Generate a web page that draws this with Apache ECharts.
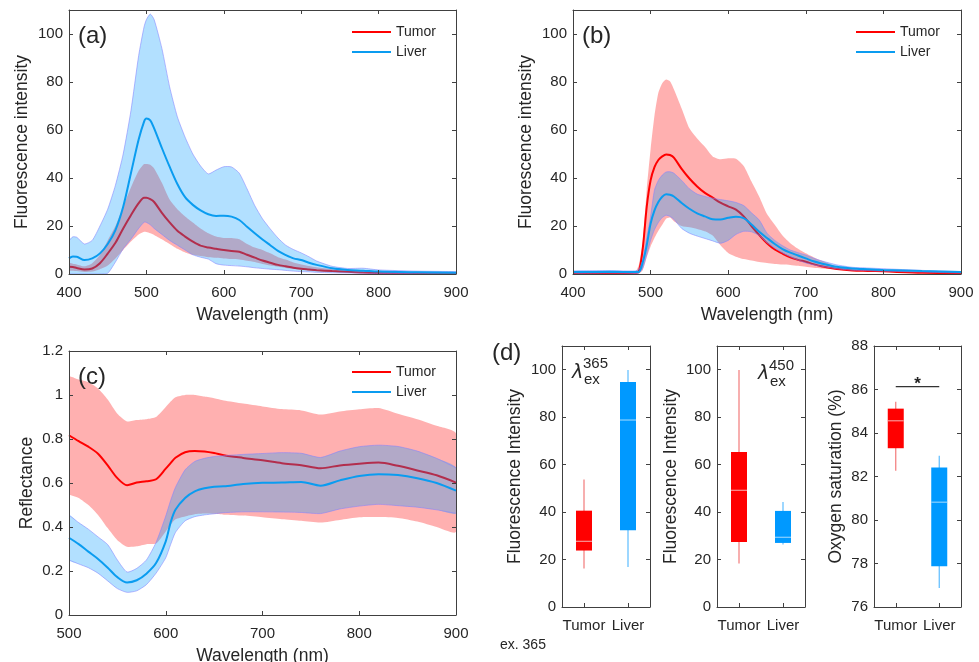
<!DOCTYPE html>
<html><head><meta charset="utf-8">
<script src="https://cdn.jsdelivr.net/npm/echarts/dist/echarts.min.js"></script>
<style>html,body{margin:0;padding:0;background:#fff}#c{width:979px;height:662px}</style>
</head><body><div id="c"></div>
<script>
// ---------- Panel (a): excitation 365 nm fluorescence ----------
const wlA = [400,405,410,420,430,440,450,460,470,480,490,497,500,505,510,520,530,540,550,560,570,580,590,600,610,620,630,640,650,660,670,680,690,700,710,720,740,760,780,800,850,900];
const liverMeanA = [6.5,7.3,7.2,5.8,6.5,8.6,12.5,18.3,28,42, 56,63.5,64.8,64,60.7,52.5,44.7,37.5,32,28.8, 26.5,24.9,24.2,24.3,23.9,22.5,19.7,17,14.4,12, 9.6,7.9,6.5,5.8,4.7,3.8,2.4,1.7,1.4,1.0, 0.7,0.5];
const liverHighA = [13.9,15.5,15.3,12.5,14,20,27,37,50,68, 91,103,106,108.3,106,94,78,65.5,57,50, 45,41.7,43.3,44.7,44.6,42,35.5,28.5,23,18.8, 15,12,10.2,8.8,7.2,5.4,3.2,2.3,2.4,1.7, 1.2,1.0];
const liverLowA = [0,0,0,0,0,0,0.3,5,10.5,14.5, 19,21.6,21.5,20.5,19,16.5,14,12,10,8, 7,6.2,4.3,3.7,3.5,3.3,3,2.6,2.3,2, 1.8,1.5,1.2,1,0.9,0.7,0.5,0.4,0.3,0.2, 0.1,0];
const tumorMeanA = [3,2.9,2.5,1.9,2.3,4.5,8.5,13,19,24.5, 29.5,31.8,31.8,31.2,30,25.5,21.5,18,15.6,13.5, 11.8,11,10.5,10,9.6,9.3,8,6.8,5.6,4.7, 3.8,3.2,2.6,2.2,1.9,1.6,1.2,0.9,0.6,0.4, 0.3,0.2];
const tumorHighA = [4.5,4.3,4,3.2,4.5,8,14,20,28,36, 43,45.8,45.8,45.5,44,38,31,27,24,21.5, 19,17,15.6,15,15,14.5,12.5,11,10,8.6, 7,6,4.8,4,3.3,2.8,2,1.5,1.1,0.8, 0.6,0.4];
const tumorLowA = [1.5,1.4,1.2,0.8,1,2,3.5,6.5,10,13.5, 16.5,17.6,17.5,17,16.3,14.5,12.5,10.5,9,8, 7.5,7,6.8,6.5,6.2,6,5.5,5,4.2,3.5, 3,2.5,2.1,1.8,1.5,1.2,0.8,0.5,0.3,0.2, 0.1,0];

// ---------- Panel (b): excitation 450 nm fluorescence ----------
const wlB = [400,450,480,485,490,495,500,505,510,515,520,525,530,540,550,560,570,580,590,600,610,620,630,640,650,660,670,680,690,700,710,720,740,760,780,800,850,900];
const tumorMeanB = [0.3,0.4,0.5,1.2,11,28,39,44.5,47.5,49, 49.8,49.6,48.5,43.8,39.8,36.5,33.8,31.8,29.7,28.2, 26.8,24,20,16.2,12.8,10.2,8.5,6.9,5.9,5.1, 4.1,3.2,2.1,1.5,1.3,1.1,0.5,0.4];
const tumorHighB = [0.8,0.9,1,4,14,35,52,66,75.5,79.5, 81,80.3,77,69,60.7,56.5,53,49,47.8,48.2, 48,45,38.5,32.2,25,20.5,16,12.8,10.5,8.6, 7,5.6,3.1,1.9,1.5,1.2,0.8,0.5];
const tumorLowB = [0,0,0,0.2,1.7,7,11.5,15,18,20.5, 23,23.5,22,20,19.5,18.8,17.8,16,12,8.8, 7.2,6.2,5.6,5,4.6,4.2,4,3.8,3.4,3, 2.6,2.3,1.8,1.5,1.2,1,0.6,0.3];
const liverMeanB = [0.8,0.9,0.8,0.9,5,12,21,26.5,30,32.2, 33.2,33,32.3,29.6,27.2,25.3,24,22.8,22.7,23.4, 23.9,23.3,20.6,17.6,15,12.5,10.4,8.9,7.7,6.5, 5.3,4.4,3,2.3,2.0,1.7,1.2,0.8];
const liverHighB = [1.3,1.4,1.3,2,6,15,24,35,39,41.2, 42.5,42.6,42,39,35.5,33.3,32.3,31.6,31,30.5, 29.8,28.5,25.5,22.5,17,14,11.8,10,8.9,7.9, 6.6,5.5,3.8,2.8,2.5,2.2,1.5,1.0];
const liverLowB = [0.3,0.4,0.3,0.4,2.5,8,14,18.5,21.5,23.5, 24.5,24,22.8,19,17,15.8,14.8,13.8,12.8,14, 16.5,17.8,17.6,16,13,10.8,8.8,7.2,5.8,4.6, 3.8,3.2,2.2,1.6,1.4,1.2,0.8,0.4];

// ---------- Panel (c): reflectance ----------
const wlC = [500,510,520,530,540,550,560,570,580,590,600,605,610,620,630,640,650,660,680,700,720,740,760,780,800,820,840,860,880,900];
const tumorMeanC = [0.817,0.79,0.765,0.733,0.68,0.622,0.59,0.602,0.608,0.617, 0.665,0.69,0.715,0.74,0.746,0.743,0.736,0.726,0.714,0.703, 0.69,0.681,0.667,0.68,0.688,0.693,0.678,0.657,0.635,0.602];
const tumorHighC = [1.082,1.07,1.058,1.03,0.98,0.915,0.88,0.886,0.89,0.9, 0.945,0.97,0.99,1.0,1.0,0.993,0.985,0.975,0.961,0.948, 0.936,0.93,0.911,0.925,0.935,0.941,0.915,0.89,0.86,0.825];
const tumorLowC = [0.552,0.532,0.5,0.455,0.395,0.34,0.31,0.312,0.322,0.325, 0.38,0.41,0.435,0.448,0.458,0.461,0.46,0.456,0.452,0.444, 0.435,0.428,0.42,0.432,0.444,0.445,0.441,0.425,0.4,0.378];
const liverMeanC = [0.351,0.322,0.288,0.255,0.215,0.172,0.148,0.158,0.188,0.236, 0.335,0.42,0.478,0.532,0.562,0.576,0.583,0.585,0.595,0.601, 0.602,0.605,0.588,0.612,0.632,0.64,0.636,0.622,0.6,0.565];
const liverHighC = [0.454,0.42,0.39,0.355,0.32,0.25,0.195,0.212,0.25,0.33, 0.45,0.52,0.58,0.66,0.698,0.712,0.72,0.724,0.73,0.734, 0.738,0.735,0.716,0.745,0.765,0.772,0.766,0.745,0.712,0.669];
const liverLowC = [0.25,0.232,0.215,0.19,0.155,0.12,0.103,0.11,0.138,0.19, 0.26,0.32,0.375,0.428,0.447,0.455,0.46,0.465,0.469,0.469, 0.468,0.466,0.461,0.482,0.495,0.503,0.497,0.49,0.478,0.462];

// ---------- Panel (d): box plots [min, q1, median, q3, max] ----------
const boxCategories = ['Tumor', 'Liver'];
const ex365Tumor = [16.2, 23.8, 27.7, 40.6, 53.7];
const ex365Liver = [16.9, 32.3, 78.8, 94.8, 99.9];
const ex450Tumor = [18.3, 27.4, 49.2, 65.3, 99.9];
const ex450Liver = [26.3, 27.0, 29.4, 40.5, 44.3];
const so2Tumor = [82.26, 83.30, 84.56, 85.12, 85.44];
const so2Liver = [76.87, 77.87, 80.82, 82.41, 82.95];
const significanceLevel = 86.13;

// ---------- Style ----------
const FONT = '"Liberation Sans", Arial, Helvetica, sans-serif';
const TXT = '#262626', AX = '#404040';
const RED = '#ff0000', BLUE = '#0a9cf0';
const RED_BAND = 'rgba(255,0,0,0.31)', BLUE_BAND = 'rgba(0,153,255,0.30)';
const BLUE_EDGE = 'rgba(130,130,255,0.55)';

const gridPos = [
  {left:69, top:10, width:387, height:264},
  {left:573, top:10, width:388, height:264},
  {left:69, top:351, width:387, height:264},
  {left:562, top:346, width:88, height:261},
  {left:717, top:346, width:88, height:261},
  {left:874, top:346, width:87, height:261}
];

function axisCommon(gi, pos, labels) {
  return {
    gridIndex: gi, position: pos, z: 10,
    axisLine: {show: true, onZero: false, lineStyle: {color: AX, width: 1}},
    axisTick: {show: true, inside: true, length: 4, lineStyle: {color: AX, width: 1}},
    splitLine: {show: false},
    axisLabel: {show: labels, color: TXT, fontSize: 15, fontFamily: FONT, margin: 7},
    nameTextStyle: {color: TXT, fontSize: 17.5, fontFamily: FONT},
    nameLocation: 'middle'
  };
}
function valX(gi, pos, min, max, name) {
  const a = axisCommon(gi, pos, pos === 'bottom');
  Object.assign(a, {type: 'value', min, max, interval: 100});
  if (name) { a.name = name; a.nameGap = 32; }
  a.axisLabel.margin = 11;
  return a;
}
function valY(gi, pos, min, max, interval, name, gap, hideMax) {
  const a = axisCommon(gi, pos, pos === 'left');
  Object.assign(a, {type: 'value', min, max, interval});
  if (hideMax) a.axisLabel.showMaxLabel = false;
  if (name) { a.name = name; a.nameGap = gap; }
  a.axisLabel.margin = 6;
  return a;
}
function catX(gi, pos) {
  const a = axisCommon(gi, pos, pos === 'bottom');
  Object.assign(a, {type: 'category', data: boxCategories, boundaryGap: true});
  a.axisTick.alignWithLabel = true;
  a.axisLabel.interval = 0;
  a.axisLabel.margin = 11;
  return a;
}

const xAxes = [
  valX(0, 'bottom', 400, 900, 'Wavelength (nm)'),
  valX(1, 'bottom', 400, 900, 'Wavelength (nm)'),
  valX(2, 'bottom', 500, 900, 'Wavelength (nm)'),
  catX(3, 'bottom'), catX(4, 'bottom'), catX(5, 'bottom'),
  valX(0, 'top', 400, 900), valX(1, 'top', 400, 900), valX(2, 'top', 500, 900),
  catX(3, 'top'), catX(4, 'top'), catX(5, 'top')
];
const yAxes = [
  valY(0, 'left', 0, 110, 20, 'Fluorescence intensity', 38, true),
  valY(1, 'left', 0, 110, 20, 'Fluorescence intensity', 38, true),
  valY(2, 'left', 0, 1.2, 0.2, 'Reflectance', 33, false),
  valY(3, 'left', 0, 110, 20, 'Fluorescence Intensity', 38, true),
  valY(4, 'left', 0, 110, 20, 'Fluorescence Intensity', 37, true),
  valY(5, 'left', 76, 88, 2, 'Oxygen saturation (%)', 29, false),
  valY(0, 'right', 0, 110, 20, null, 0, true),
  valY(1, 'right', 0, 110, 20, null, 0, true),
  valY(2, 'right', 0, 1.2, 0.2, null, 0, false),
  valY(3, 'right', 0, 110, 20, null, 0, true),
  valY(4, 'right', 0, 110, 20, null, 0, true),
  valY(5, 'right', 76, 88, 2, null, 0, false)
];

function pairs(xs, ys) { return xs.map((x, i) => [x, ys[i]]); }

// shaded spread between lower and upper bound, drawn through the axes' scales
function band(gi, name, xs, lo, hi, fill, edge, z) {
  return {
    type: 'custom', name: name + ' spread', xAxisIndex: gi, yAxisIndex: gi, silent: true, z,
    encode: {x: 0, y: [1, 2]},
    data: xs.map((x, i) => [x, lo[i], hi[i]]),
    renderItem(params, api) {
      if (params.dataIndex !== 0) return null;
      const up = xs.map((x, i) => api.coord([x, hi[i]]));
      const dn = xs.map((x, i) => api.coord([x, lo[i]]));
      const poly = up.concat(dn.slice().reverse());
      const cs = params.coordSys;
      const children = [{type: 'polygon', shape: {points: poly, smooth: 0.2}, style: {fill: fill, stroke: null}}];
      if (edge) {
        children.push({type: 'polyline', shape: {points: up, smooth: 0.2}, style: {stroke: edge, lineWidth: 1, fill: null}});
        children.push({type: 'polyline', shape: {points: dn, smooth: 0.2}, style: {stroke: edge, lineWidth: 1, fill: null}});
      }
      return {type: 'group', children,
              clipPath: {type: 'rect', shape: {x: cs.x, y: cs.y, width: cs.width, height: cs.height}}};
    }
  };
}
function meanLine(gi, name, xs, ys, color, z) {
  return {type: 'line', name, xAxisIndex: gi, yAxisIndex: gi, data: pairs(xs, ys), symbol: 'none',
          smooth: 0.3, lineStyle: {color, width: 2}, itemStyle: {color}, z};
}
function panel(gi, xs, tm, tl, th, lm, ll, lh) {
  return [
    band(gi, 'Tumor', xs, tl, th, RED_BAND, null, 2),
    meanLine(gi, 'Tumor', xs, tm, RED, 3),
    band(gi, 'Liver', xs, ll, lh, BLUE_BAND, BLUE_EDGE, 4),
    meanLine(gi, 'Liver', xs, lm, BLUE, 5)
  ];
}

const boxStyle = [
  {fill: '#ff0000', whisker: '#f27a7a', median: '#f7b3b3'},
  {fill: '#0099ff', whisker: '#5cbcff', median: '#a8dcff'}
];
function renderBox(params, api) {
  const ci = api.value(0);
  const p = [1, 2, 3, 4, 5].map(d => api.coord([ci, api.value(d)]));
  const hw = 8, s = boxStyle[ci];
  return {type: 'group', children: [
    {type: 'line', shape: {x1: p[0][0], y1: p[0][1], x2: p[4][0], y2: p[4][1]}, style: {stroke: s.whisker, lineWidth: 1.2}},
    {type: 'rect', shape: {x: p[3][0] - hw, y: p[3][1], width: 2 * hw, height: p[1][1] - p[3][1]}, style: {fill: s.fill}},
    {type: 'line', shape: {x1: p[2][0] - hw, y1: p[2][1], x2: p[2][0] + hw, y2: p[2][1]}, style: {stroke: s.median, lineWidth: 1}}
  ]};
}
function boxSeries(gi, tumor, liver) {
  return {type: 'custom', xAxisIndex: gi, yAxisIndex: gi, renderItem: renderBox, silent: true, z: 5,
          encode: {x: 0, y: [1, 2, 3, 4, 5]},
          data: [[0, ...tumor], [1, ...liver]]};
}
const sigSeries = {
  type: 'custom', xAxisIndex: 5, yAxisIndex: 5, silent: true, z: 6,
  encode: {x: [0, 1], y: 2},
  data: [[0, 1, significanceLevel]],
  renderItem(params, api) {
    const a = api.coord([api.value(0), api.value(2)]);
    const b = api.coord([api.value(1), api.value(2)]);
    return {type: 'group', children: [
      {type: 'line', shape: {x1: a[0], y1: a[1], x2: b[0], y2: b[1]}, style: {stroke: '#333', lineWidth: 1.2}},
      {type: 'text', x: (a[0] + b[0]) / 2, y: a[1] - 2, style: {text: '*', fontSize: 17, fontWeight: 'bold', fontFamily: FONT, fill: '#222', align: 'center', verticalAlign: 'middle'}}
    ]};
  }
};

function legendAt(left, top) {
  return {left, top, orient: 'vertical', z: 20, padding: 0, selectedMode: false,
    itemWidth: 39, itemHeight: 2, itemGap: 6, icon: 'rect',
    data: [{name: 'Tumor', itemStyle: {color: RED}}, {name: 'Liver', itemStyle: {color: BLUE}}],
    textStyle: {fontSize: 14, color: TXT, fontFamily: FONT}};
}

function txt(text, x, y, size, extra) {
  return {type: 'text', x, y, silent: true, z: 20,
          style: Object.assign({text, fontSize: size, fontFamily: FONT, fill: TXT, align: 'left', verticalAlign: 'middle'}, extra || {})};
}
const LAMBDA_FONT = '"DejaVu Sans", sans-serif';

const option = {
  animation: false,
  backgroundColor: '#ffffff',
  grid: gridPos.map(g => Object.assign({containLabel: false, outerBoundsMode: 'none'}, g)),
  xAxis: xAxes,
  yAxis: yAxes,
  legend: [legendAt(352, 25), legendAt(856, 25), legendAt(352, 365)],
  series: [
    ...panel(0, wlA, tumorMeanA, tumorLowA, tumorHighA, liverMeanA, liverLowA, liverHighA),
    ...panel(1, wlB, tumorMeanB, tumorLowB, tumorHighB, liverMeanB, liverLowB, liverHighB),
    ...panel(2, wlC, tumorMeanC, tumorLowC, tumorHighC, liverMeanC, liverLowC, liverHighC),
    boxSeries(3, ex365Tumor, ex365Liver),
    boxSeries(4, ex450Tumor, ex450Liver),
    boxSeries(5, so2Tumor, so2Liver),
    sigSeries
  ],
  graphic: [
    txt('(a)', 78, 36, 24),
    txt('(b)', 582, 36, 24),
    txt('(c)', 78, 377, 24),
    txt('(d)', 492, 353, 24),
    txt('λ', 572, 373, 19, {fontFamily: LAMBDA_FONT, fontStyle: 'italic'}),
    txt('365', 583, 364, 15),
    txt('ex', 584, 380, 15),
    txt('λ', 758, 374, 19, {fontFamily: LAMBDA_FONT, fontStyle: 'italic'}),
    txt('450', 769, 366, 15),
    txt('ex', 770, 382, 15),
    txt('ex. 365', 500, 645, 14)
  ]
};

const chart = echarts.init(document.getElementById('c'), null, {renderer: 'canvas'});
chart.setOption(option);
</script></body></html>
